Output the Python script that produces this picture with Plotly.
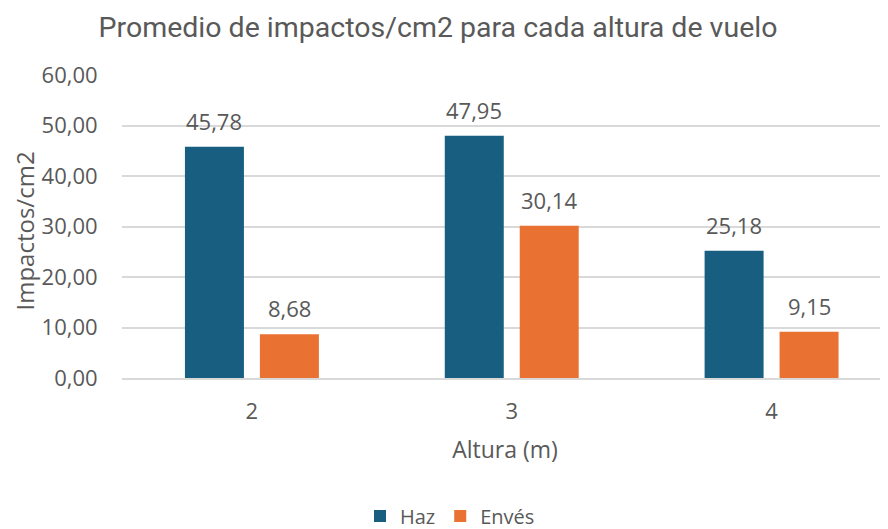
import plotly.graph_objects as go

categories = ["2", "3", "4"]
haz = [45.78, 47.95, 25.18]
enves = [8.68, 30.14, 9.15]
series_names = ["Haz", "Envés"]
colors = ["#175E80", "#E97132"]
title = "Promedio de impactos/cm2 para cada altura de vuelo"
ytitle = "Impactos/cm2"
xtitle = "Altura (m)"

TFONT = "Roboto"
FONT = "Open Sans"
GREY = "#595959"

# page body has an 8px margin; figure is sized to fit the visible window
W, H = 880, 521
ML, MT, MB = 113.5, 67, 151
PH = H - MT - MB

fig = go.Figure()
for name, vals, col in zip(series_names, [haz, enves], colors):
    fig.add_trace(go.Bar(x=categories, y=vals, name=name, marker_color=col,
                         marker_line_width=0))

annots = []
for vals, shift in [(haz, -37.5), (enves, 37.5)]:
    for i, v in enumerate(vals):
        annots.append(dict(x=i, y=v, xref="x", yref="y", text=f"{v:.2f}".replace(".", ","),
                           showarrow=False, xshift=shift, yshift=26,
                           font=dict(family=FONT, size=22, color=GREY)))
# y-axis title
annots.append(dict(text=ytitle, xref="paper", yref="paper", x=0, y=(370 - 223) / PH,
                   xshift=15 - ML, xanchor="center", yanchor="middle", textangle=-90,
                   showarrow=False, font=dict(family=FONT, size=24, color=GREY)))

fig.update_layout(
    width=W, height=H,
    margin=dict(l=ML, r=0, t=MT, b=MB),
    paper_bgcolor="white", plot_bgcolor="white",
    separators=",.",
    barmode="group", bargap=0.423, bargroupgap=0.213,
    title=dict(text=title, x=430 / W, xanchor="center", y=1 - 19 / H, yanchor="middle",
               font=dict(family=TFONT, size=28.5, color=GREY)),
    font=dict(family=FONT, color=GREY),
    showlegend=True,
    legend=dict(orientation="h", xref="container", yref="container",
                x=442 / W, xanchor="center", y=1 - 508 / H, yanchor="middle",
                font=dict(family=FONT, size=20, color=GREY),
                traceorder="normal"),
    annotations=annots,
)
fig.update_yaxes(range=[0, 60], dtick=10, tickformat=".2f", showgrid=True,
                 gridcolor="#D9D9D9", gridwidth=1.5, zeroline=False,
                 showline=False, ticks="outside", ticklen=19, tickcolor="rgba(0,0,0,0)",
                 automargin=False,
                 tickfont=dict(family=FONT, size=22, color=GREY))
fig.update_xaxes(type="category", range=[-0.5, 2 + (W - 763.5) / 260], showgrid=False,
                 showline=True, linecolor="#D9D9D9", linewidth=1.5, ticks="",
                 ticklabelstandoff=13, automargin=True,
                 tickfont=dict(family=FONT, size=22, color=GREY),
                 title=dict(text=xtitle, standoff=18, font=dict(family=FONT, size=23, color=GREY)))

fig.write_html("out.html")
